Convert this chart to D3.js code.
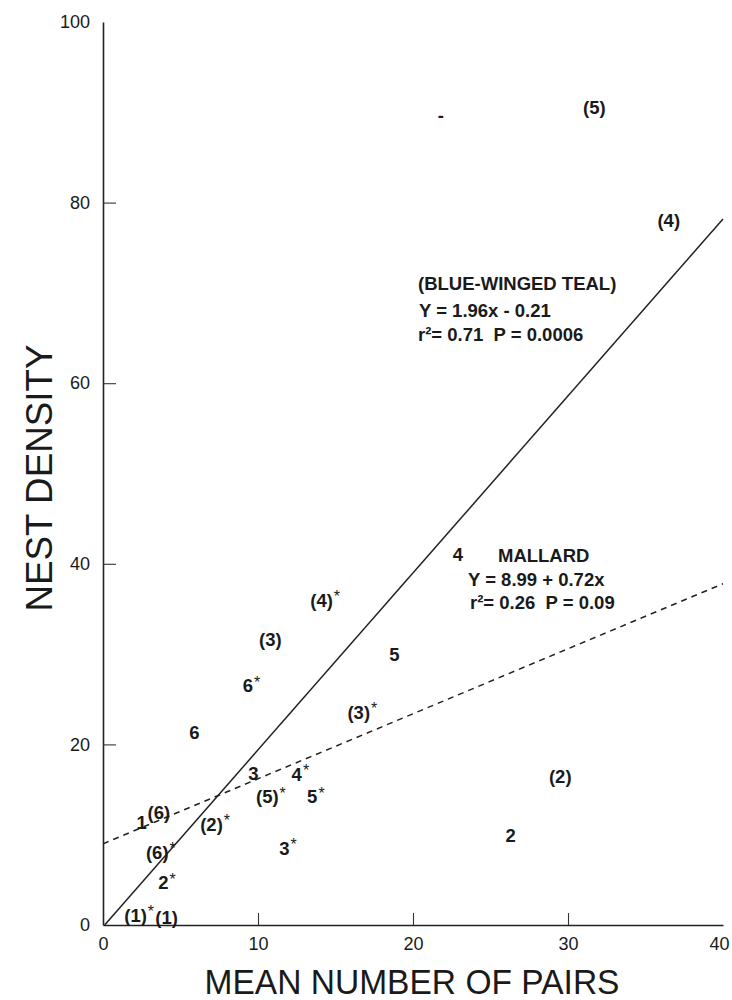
<!DOCTYPE html>
<html>
<head>
<meta charset="utf-8">
<title>Nest density vs mean number of pairs</title>
<style>
  body { margin: 0; background: #fff; }
  svg { display: block; font-family: "Liberation Sans", Arial, Helvetica, sans-serif; }
  text { fill: #1a1a1a; white-space: pre; }
</style>
</head>
<body>
<script src="https://cdn.jsdelivr.net/npm/d3@7"></script>
<script>

// --- data ---
var pointLabels = ["(5)", "-", "(4)", "4", "(4)", "(3)", "5", "6", "(3)", "6", "3", "4",
                   "(5)", "5", "(2)", "2", "(6)", "1", "(2)", "3", "(6)", "2", "(1)", "(1)"];
var meanPairs   = [31.7, 21.8, 36.5, 22.9, 14.1, 10.8, 18.8, 9.35, 16.5, 5.9, 9.7, 12.5,
                   10.6, 13.5, 29.5, 26.3, 3.6, 2.5, 7.0, 11.7, 3.5, 3.9, 2.1, 4.1];
var nestDensity = [90.5, 89.7, 78.0, 41.1, 36.0, 31.6, 30.0, 26.5, 23.6, 21.3, 16.8, 16.7,
                   14.2, 14.2, 16.5, 9.9, 12.5, 11.4, 11.2, 8.5, 8.1, 4.7, 1.1, 0.9];
var starred     = [0, 0, 0, 0, 1, 0, 0, 1, 1, 0, 0, 1,
                   1, 1, 0, 0, 0, 0, 1, 1, 1, 1, 1, 0];

var xTicks = [0, 10, 20, 30, 40];
var yTicks = [0, 20, 40, 60, 80, 100];

// regression fits printed on the figure
var tealFit    = {intercept: -0.21, slope: 1.96};
var mallardFit = {intercept: 8.99, slope: 0.72};

var tealText    = ["(BLUE-WINGED TEAL)", "Y = 1.96x - 0.21", "r\u00b2= 0.71  P = 0.0006"];
var mallardText = ["MALLARD", "Y = 8.99 + 0.72x", "r\u00b2= 0.26  P = 0.09"];

// --- layout ---
var width = 732, height = 1000;

var x = d3.scaleLinear().domain([0, 40]).range([103, 723]);
var y = d3.scaleLinear().domain([0, 100]).range([925, 22]);

var svg = d3.select("body").append("svg")
    .attr("width", width)
    .attr("height", height);

// axes
var yAxis = svg.append("g")
    .attr("transform", "translate(" + x(0) + ",0)")
    .call(d3.axisLeft(y)
      .tickValues(yTicks)
      .tickSizeInner(-13)
      .tickSizeOuter(0)
      .tickPadding(13));

var xAxis = svg.append("g")
    .attr("transform", "translate(0," + y(0) + ")")
    .call(d3.axisBottom(x)
      .tickValues(xTicks)
      .tickSizeInner(-12)
      .tickSizeOuter(0)
      .tickPadding(12));

[yAxis, xAxis].forEach(function(a) {
  a.select(".domain").attr("stroke", "#222").attr("stroke-width", 1.6);
  a.selectAll(".tick line").attr("stroke", "#333").attr("stroke-width", 1.1);
  a.selectAll(".tick text")
    .attr("font-family", null)
    .attr("font-size", 18)
    .attr("fill", "#1a1a1a");
});
// no tick marks at the ends of the axes
yAxis.selectAll(".tick line").filter(function(d) { return d == 0 || d == 100; }).remove();
xAxis.selectAll(".tick line").filter(function(d) { return d == 0 || d == 40; }).remove();
// keep the last x label inside the page
xAxis.selectAll(".tick text").filter(function(d) { return d == 40; }).attr("dx", -4);

// axis titles
svg.append("text")
    .attr("x", 412)
    .attr("y", 994)
    .attr("text-anchor", "middle")
    .attr("font-size", 35)
    .attr("textLength", 415)
    .attr("lengthAdjust", "spacingAndGlyphs")
    .text("MEAN NUMBER OF PAIRS");

svg.append("text")
    .attr("transform", "translate(52,478) rotate(-90)")
    .attr("text-anchor", "middle")
    .attr("font-size", 37)
    .attr("textLength", 267)
    .attr("lengthAdjust", "spacingAndGlyphs")
    .text("NEST DENSITY");

// regression lines
var line = d3.line()
    .x(function(d) { return x(d[0]); })
    .y(function(d) { return y(d[1]); });

function fitLine(fit, x0, x1) {
  return [[x0, fit.intercept + fit.slope * x0], [x1, fit.intercept + fit.slope * x1]];
}

svg.append("path")
    .attr("d", line(fitLine(tealFit, -tealFit.intercept / tealFit.slope, 40)))
    .attr("fill", "none")
    .attr("stroke", "#222")
    .attr("stroke-width", 1.5);

svg.append("path")
    .attr("d", line(fitLine(mallardFit, 0, 40)))
    .attr("fill", "none")
    .attr("stroke", "#222")
    .attr("stroke-width", 1.5)
    .attr("stroke-dasharray", "6,5");

// point labels
var points = pointLabels.map(function(l, i) {
  return {label: l, x: meanPairs[i], y: nestDensity[i], star: starred[i]};
});

var pt = svg.append("g").selectAll("g")
  .data(points)
  .enter().append("g")
    .attr("transform", function(d) { return "translate(" + x(d.x) + "," + y(d.y) + ")"; });

pt.append("text")
    .attr("text-anchor", "middle")
    .attr("dy", "0.36em")
    .attr("font-size", 18.5)
    .attr("font-weight", "bold")
    .text(function(d) { return d.label; })
    .each(function(d) { d.w = this.getComputedTextLength(); });

pt.filter(function(d) { return d.star; })
  .append("text")
    .attr("x", function(d) { return d.w / 2 + 1; })
    .attr("y", 2)
    .attr("font-size", 16)
    .attr("fill", "#444")
    .text("*");

// regression annotations
function annotate(lines, x0, baselines) {
  svg.append("g").selectAll("text")
    .data(lines)
    .enter().append("text")
      .attr("x", function(d, i) { return x0[i]; })
      .attr("y", function(d, i) { return baselines[i]; })
      .attr("font-size", 18.5)
      .attr("font-weight", "bold")
      .text(function(d) { return d; });
}

annotate(tealText, [418, 419, 418], [290, 317, 341]);
annotate(mallardText, [498, 468, 470], [562, 586, 609]);

</script>
</body>
</html>
